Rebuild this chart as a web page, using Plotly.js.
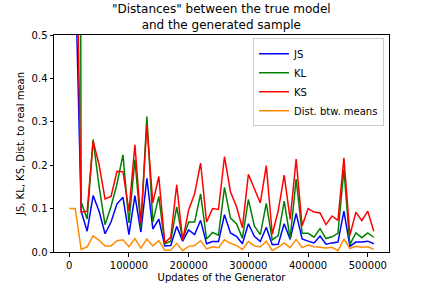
<!DOCTYPE html>
<html>
<head>
<meta charset="utf-8">
<script src="https://cdn.plot.ly/plotly-3.0.1.min.js"></script>
<style>html,body{margin:0;padding:0;background:#fff;}#chart{width:432px;height:288px;}</style>
</head>
<body>
<div id="chart"></div>
<script>
// Updates of the generator (x values)
const updates = [0,10000,20000,30000,40000,50000,60000,70000,80000,90000,
  100000,110000,120000,130000,140000,150000,160000,170000,180000,190000,
  200000,210000,220000,230000,240000,250000,260000,270000,280000,290000,
  300000,310000,320000,330000,340000,350000,360000,370000,380000,390000,
  400000,410000,420000,430000,440000,450000,460000,470000,480000,490000,
  500000,510000];

const jsVals = [0.69,0.66,0.094,0.048,0.13,0.094,0.042,0.069,0.111,0.126,
  0.04,0.13,0.046,0.17,0.053,0.076,0.014,0.015,0.059,0.025,
  0.051,0.04,0.073,0.019,0.024,0.024,0.086,0.044,0.036,0.019,
  0.065,0.036,0.024,0.057,0.017,0.018,0.065,0.029,0.089,0.03,
  0.025,0.021,0.037,0.018,0.021,0.023,0.094,0.013,0.023,0.023,
  0.025,0.019];

const klVals = [6.0,5.5,0.115,0.076,0.259,0.151,0.063,0.105,0.157,0.224,
  0.067,0.213,0.056,0.312,0.069,0.128,0.019,0.025,0.104,0.028,
  0.069,0.069,0.134,0.03,0.045,0.039,0.149,0.078,0.065,0.032,
  0.121,0.06,0.04,0.112,0.028,0.038,0.117,0.031,0.168,0.043,
  0.043,0.034,0.054,0.031,0.035,0.043,0.19,0.017,0.044,0.033,
  0.044,0.034];

const ksVals = [1.0,0.95,0.092,0.094,0.256,0.201,0.122,0.128,0.186,0.185,
  0.094,0.247,0.067,0.292,0.113,0.174,0.021,0.034,0.155,0.027,
  0.097,0.134,0.205,0.069,0.1,0.098,0.22,0.139,0.105,0.056,
  0.179,0.145,0.113,0.199,0.041,0.095,0.177,0.075,0.214,0.06,
  0.1,0.092,0.09,0.063,0.083,0.073,0.217,0.038,0.092,0.072,
  0.094,0.048];

const meanDist = [0.1,0.1,0.006,0.012,0.037,0.027,0.014,0.014,0.026,0.028,
  0.012,0.031,0.009,0.03,0.014,0.026,0.004,0.004,0.02,0.003,
  0.013,0.015,0.026,0.007,0.012,0.01,0.028,0.02,0.015,0.006,
  0.024,0.014,0.012,0.025,0.003,0.011,0.021,0.01,0.029,0.01,
  0.016,0.012,0.011,0.009,0.011,0.003,0.03,0.008,0.013,0.011,
  0.012,0.006];

const seriesNames = ["JS","KL","KS","Dist. btw. means"];
const seriesColors = ["#0000ff","#008000","#ff0000","#ff8c00"];
const seriesData = [jsVals, klVals, ksVals, meanDist];

const xTicks = [0,100000,200000,300000,400000,500000];
const yTicks = [0.0,0.1,0.2,0.3,0.4,0.5];

const titleText = '"Distances" between the true model<br>and the generated sample';

const traces = seriesData.map((vals, k) => ({
  x: updates, y: vals, type: "scatter", mode: "lines",
  name: seriesNames[k], line: {color: seriesColors[k], width: 1.5}
}));

const font = {family: "DejaVu Sans, sans-serif", size: 10, color: "#000"};

const layout = {
  width: 432, height: 288,
  margin: {l: 54, r: 43, t: 35, b: 36, pad: 0},
  paper_bgcolor: "#fff", plot_bgcolor: "#fff",
  font: font,
  showlegend: true,
  annotations: [{
    text: titleText, xref: "paper", yref: "paper", x: 0.5, y: 1,
    xanchor: "center", yanchor: "bottom", yshift: 1, showarrow: false,
    align: "center",
    font: {family: "DejaVu Sans, sans-serif", size: 12, color: "#000"}
  }],
  xaxis: {
    range: [-25500, 535500], tickvals: xTicks, ticktext: xTicks.map(String),
    showgrid: false, zeroline: false, showline: true, mirror: true,
    linecolor: "#000", linewidth: 1, ticks: "outside", ticklen: 3.5, tickwidth: 1, tickcolor: "#000",
    title: {text: "Updates of the Generator", font: font, standoff: 4}
  },
  yaxis: {
    range: [0, 0.5], tickvals: yTicks, ticktext: yTicks.map(v => v.toFixed(1)),
    showgrid: false, zeroline: false, showline: true, mirror: true,
    linecolor: "#000", linewidth: 1, ticks: "outside", ticklen: 3.5, tickwidth: 1, tickcolor: "#000",
    title: {text: "JS, KL, KS, Dist. to real mean", font: font, standoff: 5}
  },
  legend: {
    x: 0.985, xanchor: "right", y: 0.985, yanchor: "top",
    bgcolor: "rgba(255,255,255,0.8)", bordercolor: "#cccccc", borderwidth: 1,
    font: font, itemwidth: 30, tracegroupgap: 0
  }
};

Plotly.newPlot("chart", traces, layout, {staticPlot: true, displayModeBar: false});
</script>
</body>
</html>
